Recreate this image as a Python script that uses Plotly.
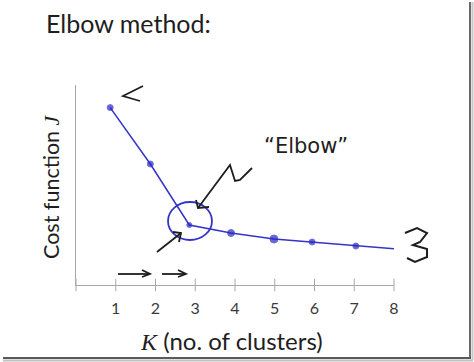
import plotly.graph_objects as go

# ---- data ----
k_ticks = [1, 2, 3, 4, 5, 6, 7, 8]
k_drawn = [0.86, 1.87, 2.85, 3.90, 4.98, 5.94, 7.04, 8.05]   # hand-drawn K positions
cost_j = [8.87, 6.05, 3.00, 2.60, 2.30, 2.15, 1.95, 1.80]
marker_sizes = [6, 6, 5, 7, 8, 6, 6, 10]

# ---- layout geometry (pixels) ----
FW, FH = 474, 362
L, R, T, B = 76, 394, 85, 285
W, H = R - L, B - T

def pp(x, y):
    """pixel -> paper coordinates"""
    return (x - L) / W, (B - y) / H

def path(points):
    s = ""
    for i, (x, y) in enumerate(points):
        px_, py_ = pp(x, y)
        s += ("M" if i == 0 else "L") + f"{px_:.4f},{py_:.4f} "
    return s.strip()

BLUE = "#3434c8"
INK = "#1e1e1e"
AXIS = "#a8a8a8"

fig = go.Figure()

# crossing tick marks on x axis
fig.add_trace(go.Scatter(
    x=[0] + k_ticks, y=[0] * (len(k_ticks) + 1), mode="markers",
    marker=dict(symbol="line-ns", size=9, line=dict(color=AXIS, width=1)),
    cliponaxis=False, hoverinfo="skip", showlegend=False))

# elbow curve
fig.add_trace(go.Scatter(
    x=k_drawn, y=cost_j, mode="lines+markers",
    line=dict(color=BLUE, width=1.5),
    marker=dict(color="#2323c8", size=marker_sizes),
    cliponaxis=False, showlegend=False))

shapes = []
def add_path(points, color=INK, width=1.8):
    shapes.append(dict(type="path", xref="paper", yref="paper", path=path(points),
                       line=dict(color=color, width=width)))

# circle around the elbow
cx0, cy0 = pp(168, 240)
cx1, cy1 = pp(212, 202)
shapes.append(dict(type="circle", xref="paper", yref="paper", x0=cx0, y0=cy0, x1=cx1, y1=cy1,
                   line=dict(color=BLUE, width=1.8)))
# arrow near K=1
add_path([(143, 86), (123, 96), (140, 101)])
# zig-zag arrow to elbow
add_path([(252, 168), (240, 180), (235, 181), (230, 165), (198, 208)])
add_path([(196, 200), (198, 208), (209, 207)])
# lower-left arrow
add_path([(157, 252), (181, 233)])
add_path([(173, 232), (181, 233), (179, 242)])
# bottom arrows
add_path([(118, 274), (150, 274)])
add_path([(142, 270), (150, 274), (142, 277)])
add_path([(162, 274), (186, 274)])
add_path([(178, 270), (186, 274), (178, 277)])
# squiggle at right
add_path([(405, 233), (417, 228), (427, 233), (420, 242), (413, 245), (427, 249),
          (427, 257), (415, 262), (407, 258)], width=2)

# slide frame shadow (right and bottom)
shapes.append(dict(type="line", xref="paper", yref="paper",
                   x0=pp(470, 0)[0], x1=pp(470, 0)[0], y0=pp(0, 2)[1], y1=pp(0, 359)[1],
                   line=dict(color="#6a6a6a", width=2)))
shapes.append(dict(type="line", xref="paper", yref="paper",
                   x0=pp(472.5, 0)[0], x1=pp(472.5, 0)[0], y0=pp(0, 2)[1], y1=pp(0, 360)[1],
                   line=dict(color="#c8c8c8", width=2)))
shapes.append(dict(type="line", xref="paper", yref="paper",
                   x0=pp(3, 0)[0], x1=pp(471, 0)[0], y0=pp(0, 358)[1], y1=pp(0, 358)[1],
                   line=dict(color="#5a5a5a", width=2)))
shapes.append(dict(type="line", xref="paper", yref="paper",
                   x0=pp(3, 0)[0], x1=pp(473, 0)[0], y0=pp(0, 360.5)[1], y1=pp(0, 360.5)[1],
                   line=dict(color="#c0c0c0", width=2)))

annotations = []
def add_text(text, x, y, size, xanchor="center", yanchor="middle", angle=0, color=INK,
             family="Lato, 'Open Sans', sans-serif"):
    ax, ay = pp(x, y)
    annotations.append(dict(text=text, x=ax, y=ay, xref="paper", yref="paper",
                            xanchor=xanchor, yanchor=yanchor, textangle=angle,
                            showarrow=False, font=dict(size=size, color=color, family=family)))

add_text("Elbow method:", 44, 23, 25, xanchor="left")
add_text("Cost function <span style='font-family:Liberation Serif'><i>J</i></span>",
         51, 187, 21.5, angle=-90)
add_text("<span style='font-family:Liberation Serif'><i>K</i></span> (no. of clusters)",
         231, 340, 24)
add_text("\u201cElbow\u201d", 306, 146, 21, family="'DejaVu Sans', sans-serif")

fig.update_layout(
    width=FW, height=FH,
    margin=dict(l=L, r=FW - R, t=T, b=FH - B),
    paper_bgcolor="white", plot_bgcolor="white",
    shapes=shapes, annotations=annotations,
    xaxis=dict(range=[0, 8], showgrid=False, zeroline=False, showline=True,
               linecolor=AXIS, linewidth=1, ticks="", tickvals=k_ticks,
               ticktext=[str(k) for k in k_ticks], ticklabelstandoff=9,
               tickfont=dict(size=16, color="#3a3a3a", family="Lato, sans-serif")),
    yaxis=dict(range=[0, 10], showgrid=False, zeroline=False, showline=True,
               linecolor=AXIS, linewidth=1, ticks="", showticklabels=False),
)

fig.write_html("out.html", config={"displayModeBar": False},
               post_script="document.body.style.margin='0';document.body.style.overflow='hidden';")
